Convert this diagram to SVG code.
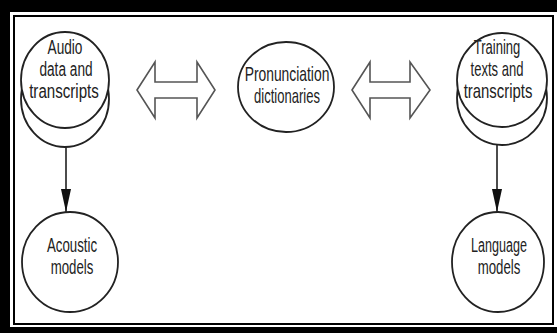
<svg xmlns="http://www.w3.org/2000/svg" width="557" height="333" viewBox="0 0 557 333">
<defs>
<style>
.node ellipse{fill:#fff;stroke:#222;stroke-width:1.8}
.lbl{font-family:"Liberation Sans",Arial,sans-serif;font-size:21px;fill:#222;text-anchor:middle}
.conn line{stroke:#111;stroke-width:1.5}
.dbl{fill:#fff;stroke:#555;stroke-width:1.6;stroke-linejoin:miter}
</style>
<marker id="ah" markerUnits="userSpaceOnUse" markerWidth="23" markerHeight="10" refX="23" refY="5" orient="auto" viewBox="0 0 23 10">
<path d="M0,0 L23,5 L0,10 Z" fill="#111"/>
</marker>
</defs>
<rect x="0" y="0" width="557" height="333" fill="#000"/>
<rect x="10" y="12" width="547" height="315" fill="#fff"/>
<rect x="14" y="16" width="539" height="308" fill="none" stroke="#000" stroke-width="2"/>

<g id="connectors" class="conn">
<line x1="66" y1="147" x2="66" y2="212" marker-end="url(#ah)"/>
<line x1="497" y1="145" x2="497" y2="212" marker-end="url(#ah)"/>
<polygon class="dbl" points="137,90 155,62 155,82 197,82 197,62 215,90 197,118 197,98 155,98 155,118"/>
<polygon class="dbl" points="352,90 370,62 370,82 410,82 410,62 430,90 410,118 410,98 370,98 370,118"/>
</g>

<g id="audio" class="node">
<ellipse cx="65" cy="99" rx="44" ry="48"/>
<ellipse cx="65" cy="80" rx="44" ry="48"/>
<text class="lbl" transform="translate(65,54) scale(0.65,1)">Audio</text>
<text class="lbl" transform="translate(66,76) scale(0.65,1)">data and</text>
<text class="lbl" transform="translate(64,98) scale(0.72,1)">transcripts</text>
</g>

<g id="pronunciation" class="node">
<ellipse cx="286" cy="87" rx="48" ry="45"/>
<text class="lbl" transform="translate(287,81) scale(0.66,1)">Pronunciation</text>
<text class="lbl" transform="translate(287,103) scale(0.62,1)">dictionaries</text>
</g>

<g id="training" class="node">
<ellipse cx="502" cy="98" rx="45" ry="47"/>
<ellipse cx="502" cy="80" rx="45" ry="47"/>
<text class="lbl" transform="translate(497,54) scale(0.62,1)">Training</text>
<text class="lbl" transform="translate(497,76) scale(0.62,1)">texts and</text>
<text class="lbl" transform="translate(498,98) scale(0.71,1)">transcripts</text>
</g>

<g id="acoustic" class="node">
<ellipse cx="70" cy="262" rx="48" ry="50"/>
<text class="lbl" transform="translate(72,252) scale(0.63,1)">Acoustic</text>
<text class="lbl" transform="translate(72,274) scale(0.63,1)">models</text>
</g>

<g id="language" class="node">
<ellipse cx="498" cy="262" rx="46" ry="50"/>
<text class="lbl" transform="translate(499,252) scale(0.6,1)">Language</text>
<text class="lbl" transform="translate(499,274) scale(0.63,1)">models</text>
</g>
</svg>
